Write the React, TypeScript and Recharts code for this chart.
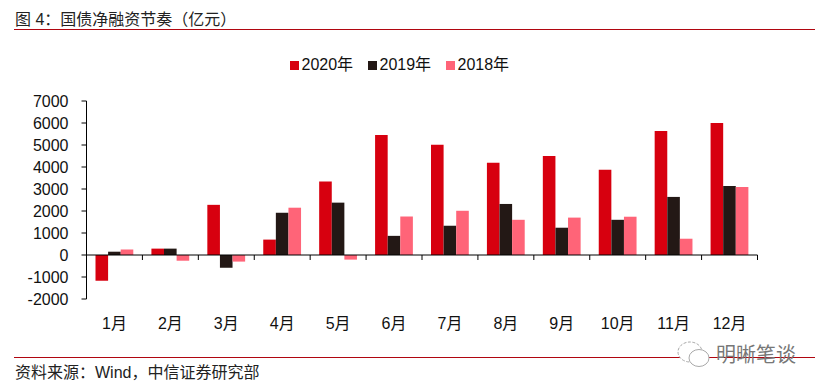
import React from "react";
import { BarChart, Bar, XAxis, YAxis, ReferenceLine, Legend } from "recharts";

const months = ["1月","2月","3月","4月","5月","6月","7月","8月","9月","10月","11月","12月"];
const s2020 = [-1170,290,2280,700,3340,5450,5010,4190,4500,3870,5640,6000];
const s2019 = [150,290,-580,1920,2380,870,1330,2320,1240,1600,2640,3140];
const s2018 = [250,-260,-300,2150,-210,1750,2010,1600,1700,1740,740,3090];
const yTicks = [-2000,-1000,0,1000,2000,3000,4000,5000,6000,7000];
const TITLE = "图 4：国债净融资节奏（亿元）";
const SOURCE = "资料来源：Wind，中信证券研究部";
const WATERMARK = "明晰笔谈";

const data = months.map((m, i) => ({ m, a: s2020[i], b: s2019[i], c: s2018[i] }));
const FONT = '"Liberation Sans","Noto Sans CJK SC",sans-serif';
const TOP = 101, BOTTOM = 299, LEFT = 86.5, RIGHT = 757.5;
const BAND = (RIGHT - LEFT) / months.length;
const Y0 = TOP + (BOTTOM - TOP) * 7 / 9;

const XTick = (p: any) => {
  const last = p.index === months.length - 1;
  return (
    <g>
      <line x1={p.x - BAND / 2} x2={p.x - BAND / 2} y1={Y0} y2={Y0 + 5} stroke="#000" />
      {last && <line x1={p.x + BAND / 2} x2={p.x + BAND / 2} y1={Y0} y2={Y0 + 5} stroke="#000" />}
      <text x={p.x} y={329} textAnchor="middle" fontSize={16} fontFamily={FONT} fill="#111">{p.payload.value}</text>
    </g>
  );
};

const LegendBox = ({ payload }: any) => (
  <div style={{ display: "flex", fontFamily: FONT, fontSize: 16, color: "#111", lineHeight: "20px", paddingLeft: 290 }}>
    {(payload || []).map((e: any, i: number) => (
      <div key={i} style={{ display: "flex", alignItems: "center", width: 78, whiteSpace: "nowrap" }}>
        <span style={{ width: 9, height: 9, background: e.color, marginRight: 2.5, display: "inline-block" }} />
        <span>{e.value}</span>
      </div>
    ))}
  </div>
);

const rule = (top: number): React.CSSProperties => ({ position: "absolute", left: 14, width: 801, top, height: 1, background: "#b00610" });

export default function App() {
  return (
    <div style={{ position: "absolute", left: 0, top: 0, width: 822, height: 391, background: "#fff", overflow: "hidden" }}>
      <div style={{ position: "absolute", left: 15, top: 10, fontFamily: FONT, fontSize: 16, color: "#222", lineHeight: "20px", whiteSpace: "pre" }}>{TITLE}</div>
      <div style={rule(29)} />
      <BarChart width={822} height={391} data={data} barSize={12.6} barGap={0}
        margin={{ top: TOP, bottom: 0, left: 0, right: 822 - RIGHT }} style={{ position: "absolute", left: 0, top: 0 }}>
        <XAxis dataKey="m" height={391 - BOTTOM} axisLine={false} tickLine={false} interval={0} tick={XTick} />
        <YAxis width={LEFT} domain={[-2000, 7000]} ticks={yTicks} interval={0} tickSize={5} tickMargin={13}
          axisLine={{ stroke: "#000" }} tickLine={{ stroke: "#000" }}
          tick={{ fontSize: 16, fontFamily: FONT, fill: "#111" }} />
        <Legend layout="horizontal" verticalAlign="middle" align="center" itemSorter={null} content={<LegendBox />}
          wrapperStyle={{ position: "absolute", top: 55, left: 0, width: 800, height: 20 }} />
        <Bar dataKey="a" name="2020年" fill="#d7000f" isAnimationActive={false} />
        <Bar dataKey="b" name="2019年" fill="#231815" isAnimationActive={false} />
        <Bar dataKey="c" name="2018年" fill="#ff6478" isAnimationActive={false} />
        <ReferenceLine y={0} stroke="#000" />
      </BarChart>
      <div style={rule(357)} />
      <div style={{ position: "absolute", left: 15, top: 363, fontFamily: FONT, fontSize: 16, color: "#222", lineHeight: "20px", whiteSpace: "pre" }}>{SOURCE}</div>
      <svg width={33} height={27} style={{ position: "absolute", left: 677, top: 341 }} fill="#fff" stroke="#aaa" strokeWidth={1}>
        <ellipse cx={13} cy={11} rx={12} ry={10} strokeDasharray="3 1.5" />
        <ellipse cx={22} cy={17} rx={10} ry={8.5} />
      </svg>
      <div style={{ position: "absolute", left: 716, top: 343, fontFamily: FONT, fontSize: 20, color: "#777", lineHeight: "24px", whiteSpace: "pre" }}>{WATERMARK}</div>
    </div>
  );
}
